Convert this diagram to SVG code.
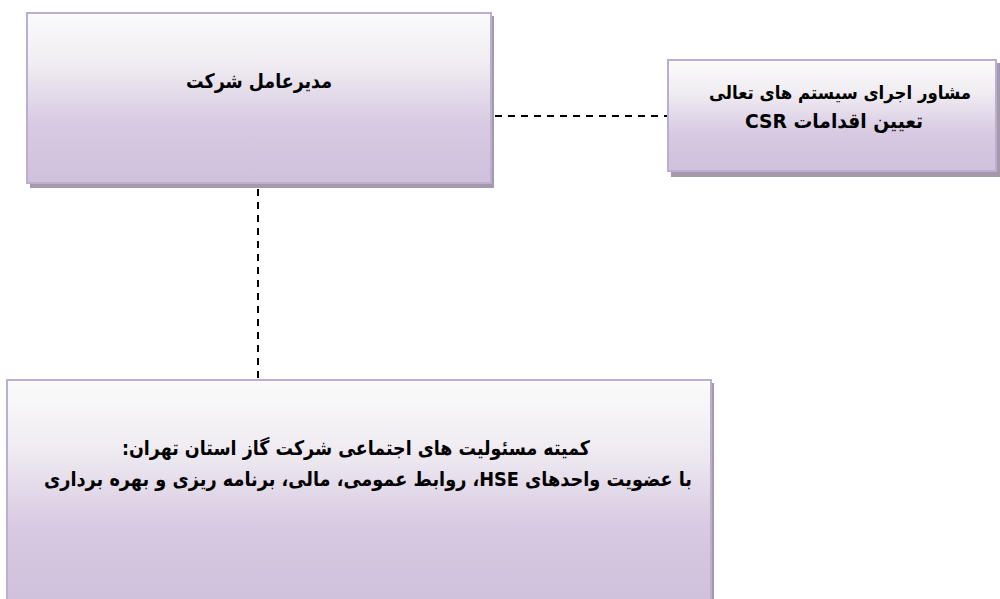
<svg xmlns="http://www.w3.org/2000/svg" width="1000" height="599" viewBox="0 0 1000 599">
<defs>
<linearGradient id="g" x1="0" y1="0" x2="0" y2="1">
<stop offset="0" stop-color="#fbfbfb"/>
<stop offset="0.3" stop-color="#f0ecf2"/>
<stop offset="0.65" stop-color="#d8cae2"/>
<stop offset="1" stop-color="#cfc0dc"/>
</linearGradient>
<style>
.shadow{fill:#a59aab}
.box{fill:url(#g);stroke:#bcaed0;stroke-width:2}
.t{font-family:"DejaVu Sans",sans-serif;font-weight:bold;font-size:20px;fill:#000;text-anchor:middle;direction:rtl}
.c{stroke:#000;stroke-width:2;stroke-dasharray:7 6;fill:none}
</style>
</defs>
<rect width="1000" height="599" fill="#fff"/>
<g id="connectors">
<line class="c" x1="258" y1="189" x2="258" y2="379"/>
<line class="c" x1="495" y1="116" x2="668" y2="116"/>
</g>
<g id="node-ceo">
<rect class="shadow" x="30" y="16" width="464" height="172"/>
<rect class="box" x="27" y="13" width="464" height="170"/>
<text class="t" x="259" y="88" textLength="146" lengthAdjust="spacingAndGlyphs">مدیرعامل شرکت</text>
</g>
<g id="node-advisor">
<rect class="shadow" x="671" y="63" width="329" height="114"/>
<rect class="box" x="668" y="60" width="328" height="111"/>
<text class="t" x="840" y="99" style="font-size:18px" textLength="262" lengthAdjust="spacingAndGlyphs">مشاور اجرای سیستم های تعالی</text>
<text class="t" x="834" y="128" textLength="178" lengthAdjust="spacingAndGlyphs">تعیین اقدامات CSR</text>
</g>
<g id="node-committee">
<rect class="shadow" x="10" y="383" width="704" height="220"/>
<rect class="box" x="7" y="380" width="704" height="225"/>
<text class="t" x="356" y="455" textLength="468" lengthAdjust="spacingAndGlyphs">کمیته مسئولیت های اجتماعی شرکت  گاز استان تهران:</text>
<text class="t" x="368" y="486" textLength="648" lengthAdjust="spacingAndGlyphs">با عضویت واحدهای HSE، روابط عمومی، مالی، برنامه ریزی و بهره برداری</text>
</g>
</svg>
